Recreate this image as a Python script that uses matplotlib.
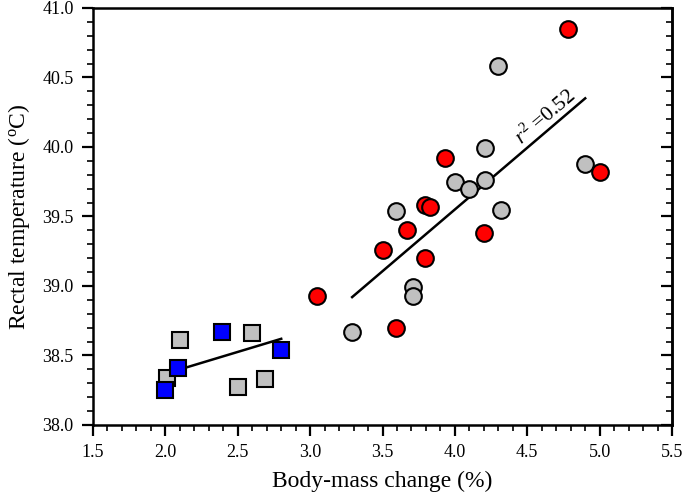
import matplotlib
matplotlib.use("Agg")
import matplotlib.pyplot as plt
from matplotlib.ticker import MultipleLocator, FormatStrFormatter

plt.rcParams['font.family'] = ['Liberation Serif', 'DejaVu Serif']
plt.rcParams['mathtext.fontset'] = 'custom'
plt.rcParams['mathtext.rm'] = 'Liberation Serif'
plt.rcParams['mathtext.it'] = 'Liberation Serif:italic'

# Squares (low body-mass change)
sq_gray_x = [2.01, 2.10, 2.60, 2.50, 2.69]
sq_gray_y = [38.34, 38.61, 38.66, 38.27, 38.33]
sq_blue_x = [2.00, 2.09, 2.39, 2.80]
sq_blue_y = [38.25, 38.41, 38.67, 38.54]
sq_fit_x = [2.10, 2.80]
sq_fit_y = [38.40, 38.62]

# Circles (high body-mass change)
ci_gray_x = [3.29, 3.71, 3.71, 3.59, 4.00, 4.10, 4.21, 4.32, 4.21, 4.30, 4.90]
ci_gray_y = [38.67, 38.99, 38.93, 39.54, 39.75, 39.70, 39.76, 39.55, 39.99, 40.58, 39.88]
ci_red_x = [3.05, 3.59, 3.50, 3.79, 3.67, 3.79, 3.83, 4.20, 3.93, 4.78, 5.00]
ci_red_y = [38.93, 38.70, 39.26, 39.20, 39.40, 39.58, 39.57, 39.38, 39.92, 40.85, 39.82]
ci_fit_x = [3.29, 4.90]
ci_fit_y = [38.92, 40.35]

fig = plt.figure(figsize=(6.85, 4.98), dpi=100)
ax = fig.add_axes([0.1358, 0.1466, 0.8453, 0.8374])

ax.plot(sq_fit_x, sq_fit_y, color='black', lw=1.8, zorder=2)
ax.plot(ci_fit_x, ci_fit_y, color='black', lw=1.8, zorder=2)

ms = 11
ax.plot(sq_gray_x, sq_gray_y, 's', ms=ms, mfc='#c0c0c0', mec='black', mew=1.5, ls='none', zorder=3)
ax.plot(sq_blue_x, sq_blue_y, 's', ms=ms, mfc='#0000ff', mec='black', mew=1.5, ls='none', zorder=4)
ax.plot(ci_gray_x, ci_gray_y, 'o', ms=12, mfc='#c0c0c0', mec='black', mew=1.5, ls='none', zorder=3)
ax.plot(ci_red_x, ci_red_y, 'o', ms=12, mfc='#ff0000', mec='black', mew=1.5, ls='none', zorder=4)

ax.text(4.63, 40.215, r'$r^2$ =0.52', rotation=40.5, rotation_mode='anchor',
        ha='center', va='center', fontsize=15.5)

ax.set_xlim(1.5, 5.5)
ax.set_ylim(38.0, 41.0)
ax.xaxis.set_major_locator(MultipleLocator(0.5))
ax.xaxis.set_minor_locator(MultipleLocator(0.1))
ax.yaxis.set_major_locator(MultipleLocator(0.5))
ax.yaxis.set_minor_locator(MultipleLocator(0.1))
ax.xaxis.set_major_formatter(FormatStrFormatter('%.1f'))
ax.yaxis.set_major_formatter(FormatStrFormatter('%.1f'))

for s in ax.spines.values():
    s.set_linewidth(1.8)

ax.tick_params(which='major', direction='out', length=8, width=1.6, labelsize=13,
               top=False, right=False, pad=6)
ax.tick_params(which='minor', direction='out', length=4, width=1.2, top=False, right=False)

sec = ax.secondary_yaxis('right')
sec.yaxis.set_major_locator(MultipleLocator(0.5))
sec.yaxis.set_minor_locator(MultipleLocator(0.1))
sec.tick_params(which='major', direction='in', length=8, width=1.6, labelright=False)
sec.tick_params(which='minor', direction='in', length=4, width=1.2)
sec.spines['right'].set_linewidth(1.8)

ax.set_xlabel('Body-mass change (%)', fontsize=17, labelpad=7)
ax.set_ylabel(r'Rectal temperature ($^{\rm o}$C)', fontsize=17, labelpad=7)

fig.savefig('out.png', dpi=100)
